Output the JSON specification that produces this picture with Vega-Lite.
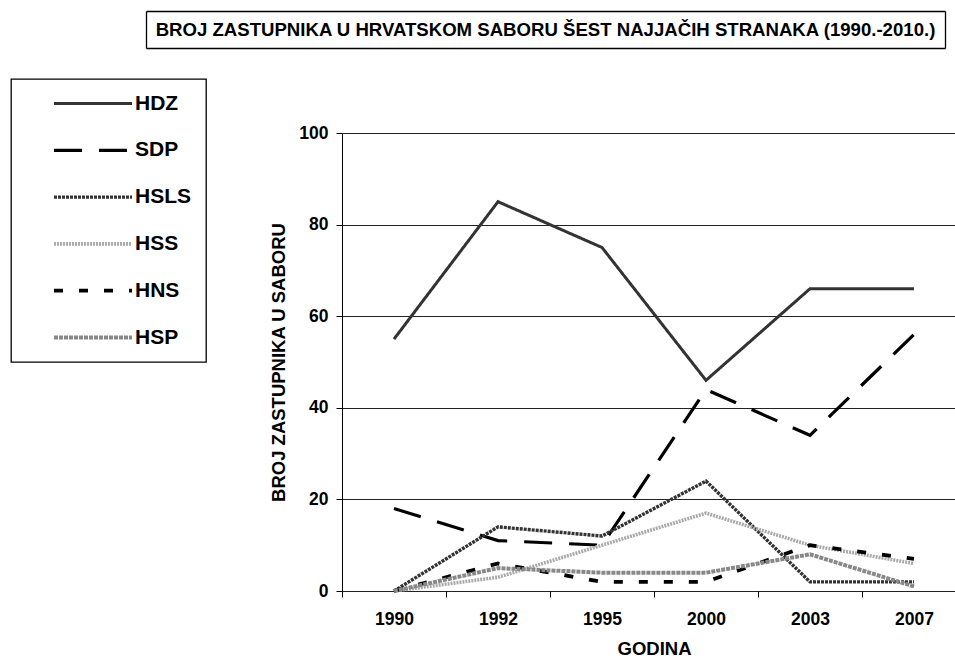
{
  "$schema": "https://vega.github.io/schema/vega-lite/v6.json",
  "padding": {"left": 10, "top": 11, "right": 0, "bottom": 0},
  "spacing": 30,
  "resolve": {"legend": {"color": "independent", "strokeDash": "independent", "strokeWidth": "independent"}},
  "config": {
    "font": "Liberation Sans",
    "view": {"stroke": null},
    "legend": {
      "orient": "none",
      "legendX": -331,
      "legendY": -54,
      "title": null,
      "strokeColor": "black",
      "strokeWidth": 1.3,
      "padding": 14,
      "symbolType": "stroke",
      "symbolSize": 6084,
      "symbolOffset": 27,
      "clipHeight": 21,
      "rowPadding": 24.8,
      "labelFont": "Liberation Sans",
      "labelFontSize": 21,
      "labelFontWeight": "bold",
      "labelColor": "black",
      "labelOffset": 1,
      "labelLimit": 300
    }
  },
  "vconcat": [
    {
      "width": 603,
      "height": 37,
      "data": {"values": [{"naslov": "BROJ ZASTUPNIKA U HRVATSKOM SABORU ŠEST NAJJAČIH STRANAKA (1990.-2010.)"}]},
      "layer": [
        {
          "mark": {"type": "text", "font": "Liberation Sans", "fontWeight": "bold", "fontSize": 18.6, "color": "black", "baseline": "middle", "align": "center"},
          "encoding": {
            "text": {"field": "naslov", "type": "nominal"},
            "x": {"datum": 0.5, "type": "quantitative", "scale": {"domain": [0, 1], "range": [-196, 603], "nice": false, "zero": false},
                  "axis": {"orient": "bottom", "title": null, "labels": false, "ticks": false, "domain": true, "domainColor": "black", "domainWidth": 1.3,
                           "grid": true, "values": [0, 1], "gridColor": "black", "gridWidth": 1.3, "gridOpacity": 1}},
            "y": {"datum": 0, "type": "quantitative", "scale": {"domain": [-1, 1]}, "axis": null}
          }
        },
        {
          "mark": {"type": "text", "opacity": 0, "fontSize": 18.6, "baseline": "middle", "align": "center"},
          "encoding": {
            "text": {"field": "naslov", "type": "nominal"},
            "x": {"datum": 0.5, "type": "quantitative",
                  "axis": {"orient": "top", "title": null, "labels": false, "ticks": false, "domain": true, "domainColor": "black", "domainWidth": 1.3, "grid": false}},
            "y": {"datum": 0, "type": "quantitative", "axis": null}
          }
        }
      ],
      "resolve": {"axis": {"x": "independent"}}
    },
    {
      "width": 614,
      "height": 458,
      "data": {"values": [
        {"godina": "1990", "stranka": "HDZ", "zastupnika": 55},
        {"godina": "1992", "stranka": "HDZ", "zastupnika": 85},
        {"godina": "1995", "stranka": "HDZ", "zastupnika": 75},
        {"godina": "2000", "stranka": "HDZ", "zastupnika": 46},
        {"godina": "2003", "stranka": "HDZ", "zastupnika": 66},
        {"godina": "2007", "stranka": "HDZ", "zastupnika": 66},
        {"godina": "1990", "stranka": "SDP", "zastupnika": 18},
        {"godina": "1992", "stranka": "SDP", "zastupnika": 11},
        {"godina": "1995", "stranka": "SDP", "zastupnika": 10},
        {"godina": "2000", "stranka": "SDP", "zastupnika": 44},
        {"godina": "2003", "stranka": "SDP", "zastupnika": 34},
        {"godina": "2007", "stranka": "SDP", "zastupnika": 56},
        {"godina": "1990", "stranka": "HSLS", "zastupnika": 0},
        {"godina": "1992", "stranka": "HSLS", "zastupnika": 14},
        {"godina": "1995", "stranka": "HSLS", "zastupnika": 12},
        {"godina": "2000", "stranka": "HSLS", "zastupnika": 24},
        {"godina": "2003", "stranka": "HSLS", "zastupnika": 2},
        {"godina": "2007", "stranka": "HSLS", "zastupnika": 2},
        {"godina": "1990", "stranka": "HSS", "zastupnika": 0},
        {"godina": "1992", "stranka": "HSS", "zastupnika": 3},
        {"godina": "1995", "stranka": "HSS", "zastupnika": 10},
        {"godina": "2000", "stranka": "HSS", "zastupnika": 17},
        {"godina": "2003", "stranka": "HSS", "zastupnika": 10},
        {"godina": "2007", "stranka": "HSS", "zastupnika": 6},
        {"godina": "1990", "stranka": "HNS", "zastupnika": 0},
        {"godina": "1992", "stranka": "HNS", "zastupnika": 6},
        {"godina": "1995", "stranka": "HNS", "zastupnika": 2},
        {"godina": "2000", "stranka": "HNS", "zastupnika": 2},
        {"godina": "2003", "stranka": "HNS", "zastupnika": 10},
        {"godina": "2007", "stranka": "HNS", "zastupnika": 7},
        {"godina": "1990", "stranka": "HSP", "zastupnika": 0},
        {"godina": "1992", "stranka": "HSP", "zastupnika": 5},
        {"godina": "1995", "stranka": "HSP", "zastupnika": 4},
        {"godina": "2000", "stranka": "HSP", "zastupnika": 4},
        {"godina": "2003", "stranka": "HSP", "zastupnika": 8},
        {"godina": "2007", "stranka": "HSP", "zastupnika": 1}
      ]},
      "mark": {"type": "line", "strokeCap": "butt", "strokeJoin": "miter"},
      "encoding": {
        "x": {
          "field": "godina", "type": "ordinal",
          "scale": {"type": "point", "range": [0, 624], "padding": 0.5},
          "axis": {
            "title": "GODINA", "titleFontSize": 18.5, "titleFontWeight": "bold", "titleColor": "black", "titlePadding": 12,
            "labelAngle": 0, "labelFontSize": 17.5, "labelFontWeight": "bold", "labelColor": "black", "labelPadding": 13,
            "domain": false, "ticks": true, "tickSize": 6, "tickColor": "black", "tickOffset": -52, "labelOffset": 52,
            "grid": false
          }
        },
        "y": {
          "field": "zastupnika", "type": "quantitative",
          "scale": {"domain": [0, 100], "nice": false},
          "axis": {
            "title": "BROJ ZASTUPNIKA U SABORU", "titleFontSize": 18.5, "titleFontWeight": "bold", "titleColor": "black", "titlePadding": 10,
            "values": [0, 20, 40, 60, 80, 100],
            "labelFontSize": 17.5, "labelFontWeight": "bold", "labelColor": "black", "labelPadding": 8,
            "domain": true, "domainColor": "black", "ticks": true, "tickSize": 6, "tickColor": "black",
            "grid": true, "gridColor": "#222", "gridWidth": 1.2
          }
        },
        "color": {
          "field": "stranka", "type": "nominal",
          "sort": ["HDZ", "SDP", "HSLS", "HSS", "HNS", "HSP"],
          "scale": {"domain": ["HDZ", "SDP", "HSLS", "HSS", "HNS", "HSP"], "range": ["#333333", "#000000", "#333333", "#aaaaaa", "#000000", "#888888"]},
          "legend": {"labelExpr": "datum.label + '\u2002\u2002'"}
        },
        "strokeDash": {
          "field": "stranka", "type": "nominal",
          "sort": ["HDZ", "SDP", "HSLS", "HSS", "HNS", "HSP"],
          "scale": {"domain": ["HDZ", "SDP", "HSLS", "HSS", "HNS", "HSP"], "range": [[1, 0], [28, 17], [3, 1], [2, 1], [9, 16], [4, 1]]},
          "legend": {"labelExpr": "datum.label + '\u2002\u2002'"}
        },
        "strokeWidth": {
          "field": "stranka", "type": "nominal",
          "sort": ["HDZ", "SDP", "HSLS", "HSS", "HNS", "HSP"],
          "scale": {"domain": ["HDZ", "SDP", "HSLS", "HSS", "HNS", "HSP"], "range": [3, 4, 4, 3, 4, 4]},
          "legend": {"labelExpr": "datum.label + '\u2002\u2002'"}
        }
      }
    }
  ]
}
